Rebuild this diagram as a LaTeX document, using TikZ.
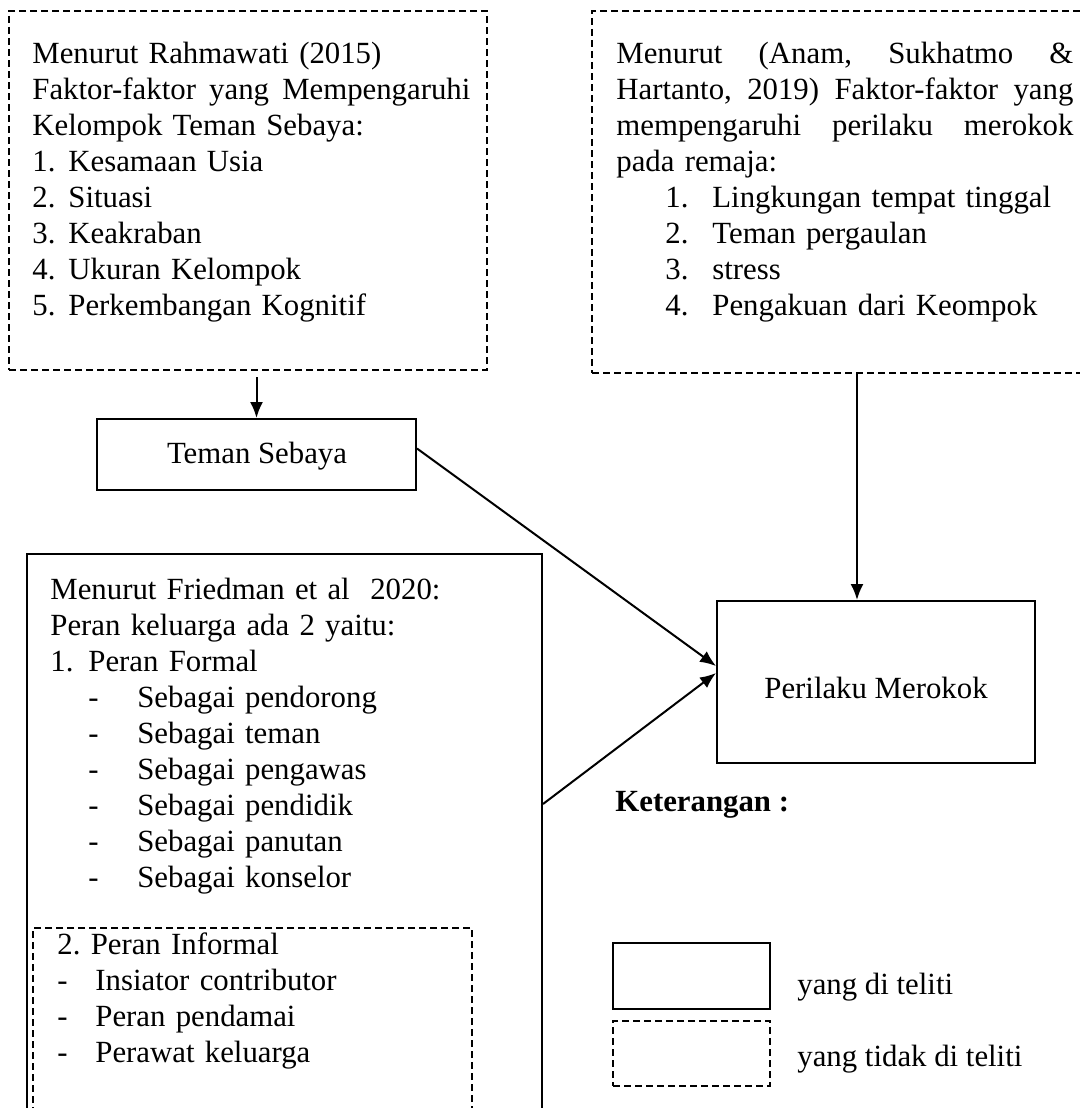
\documentclass[tikz,border=0pt]{standalone}
\usepackage{fontspec}
\setmainfont{Liberation Serif}
\usetikzlibrary{arrows.meta,calc,fit}
\newcommand{\jline}[2]{\leavevmode\hbox to #1{#2}}
\begin{document}
\begin{tikzpicture}[x=0.5pt,y=-0.5pt,
  font=\fontsize{15.4pt}{18pt}\selectfont,
  dbox/.style={draw, line width=1pt, dash pattern=on 3.5pt off 2pt, inner sep=0pt},
  sbox/.style={draw, line width=1pt, inner sep=0pt},
  txt/.style={anchor=north west, inner sep=0pt, align=left},
  lbl/.style={anchor=base, inner sep=0pt},
  arr/.style={line width=1pt, -{Latex[length=8pt,width=6.5pt]}}]
\useasboundingbox (0,0) rectangle (1080,1108);
\fill[white] (0,0) rectangle (1080,1108);

% boxes
\node[dbox, fit={(9,11)(487,370)}] (box1) {};
\node[dbox, fit={(592,11)(1095,373)}] (box2) {};
\node[sbox, fit={(97,419)(416,490)}] (teman) {};
\node[sbox, fit={(717,601)(1035,763)}] (perilaku) {};
\node[sbox, fit={(27,554)(542,1125)}] (box3) {};
\node[dbox, fit={(33,928)(472,1125)}] (box4) {};

\node[lbl] (temant) at (257,463) {Teman Sebaya};
\node[lbl] (perilakut) at (876,698) {Perilaku Merokok};

% texts
\node[txt, text width=222pt] (t1) at (32,39) {\rule{0pt}{12pt}Menurut Rahmawati (2015)\\
\jline{219pt}{Faktor-faktor\hfill yang\hfill Mempengaruhi}\\
Kelompok Teman Sebaya:\\
\makebox[18pt][l]{1.}Kesamaan Usia\\
\makebox[18pt][l]{2.}Situasi\\
\makebox[18pt][l]{3.}Keakraban\\
\makebox[18pt][l]{4.}Ukuran Kelompok\\
\makebox[18pt][l]{5.}Perkembangan Kognitif};

\node[txt, text width=232pt] (t2) at (616,39) {\rule{0pt}{12pt}\jline{228.5pt}{Menurut\hfill (Anam,\hfill Sukhatmo\hfill \&}\\
\jline{228.5pt}{Hartanto,\hfill 2019)\hfill Faktor-faktor\hfill yang}\\
\jline{228.5pt}{mempengaruhi\hfill perilaku\hfill merokok}\\
pada remaja:\\
\hspace*{24.5pt}\makebox[23.5pt][l]{1.}Lingkungan tempat tinggal\\
\hspace*{24.5pt}\makebox[23.5pt][l]{2.}Teman pergaulan\\
\hspace*{24.5pt}\makebox[23.5pt][l]{3.}stress\\
\hspace*{24.5pt}\makebox[23.5pt][l]{4.}Pengakuan dari Keompok};

\node[txt, text width=235pt] (t3) at (50,575) {\rule{0pt}{12pt}Menurut Friedman et al\ \ 2020:\\
Peran keluarga ada 2 yaitu:\\
\makebox[19pt][l]{1.}Peran Formal\\
\hspace*{19pt}\makebox[24.5pt][l]{-}Sebagai pendorong\\
\hspace*{19pt}\makebox[24.5pt][l]{-}Sebagai teman\\
\hspace*{19pt}\makebox[24.5pt][l]{-}Sebagai pengawas\\
\hspace*{19pt}\makebox[24.5pt][l]{-}Sebagai pendidik\\
\hspace*{19pt}\makebox[24.5pt][l]{-}Sebagai panutan\\
\hspace*{19pt}\makebox[24.5pt][l]{-}Sebagai konselor};

\node[txt, text width=200pt] (t4) at (57,930) {\rule{0pt}{12pt}2.\ Peran Informal\\
\makebox[19pt][l]{-}Insiator contributor\\
\makebox[19pt][l]{-}Peran pendamai\\
\makebox[19pt][l]{-}Perawat keluarga};

% legend
\node[anchor=base west, inner sep=0pt, font=\fontsize{15.4pt}{18pt}\selectfont\bfseries] (ket) at (615,811) {Keterangan :};
\node[sbox, fit={(613,943)(770,1009)}] (leg1) {};
\node[dbox, fit={(613,1021)(770,1086)}] (leg2) {};
\node[anchor=base west, inner sep=0pt] (leg1t) at (797,994) {yang di teliti};
\node[anchor=base west, inner sep=0pt] (leg2t) at (797,1066) {yang tidak di teliti};

% connectors
\coordinate (a2x) at (857,0);
\draw[arr] ($(box1.south -| teman.north)+(0,6)$) -- (teman.north);
\draw[arr] (box2.south -| a2x) -- (perilaku.north -| a2x);
\draw[arr] ($(teman.east)+(0,-6)$) -- ($(perilaku.west)+(0,-16)$);
\draw[arr] ($(box3.north east)+(0,251)$) -- ($(perilaku.west)+(0,-9)$);
\end{tikzpicture}
\end{document}
